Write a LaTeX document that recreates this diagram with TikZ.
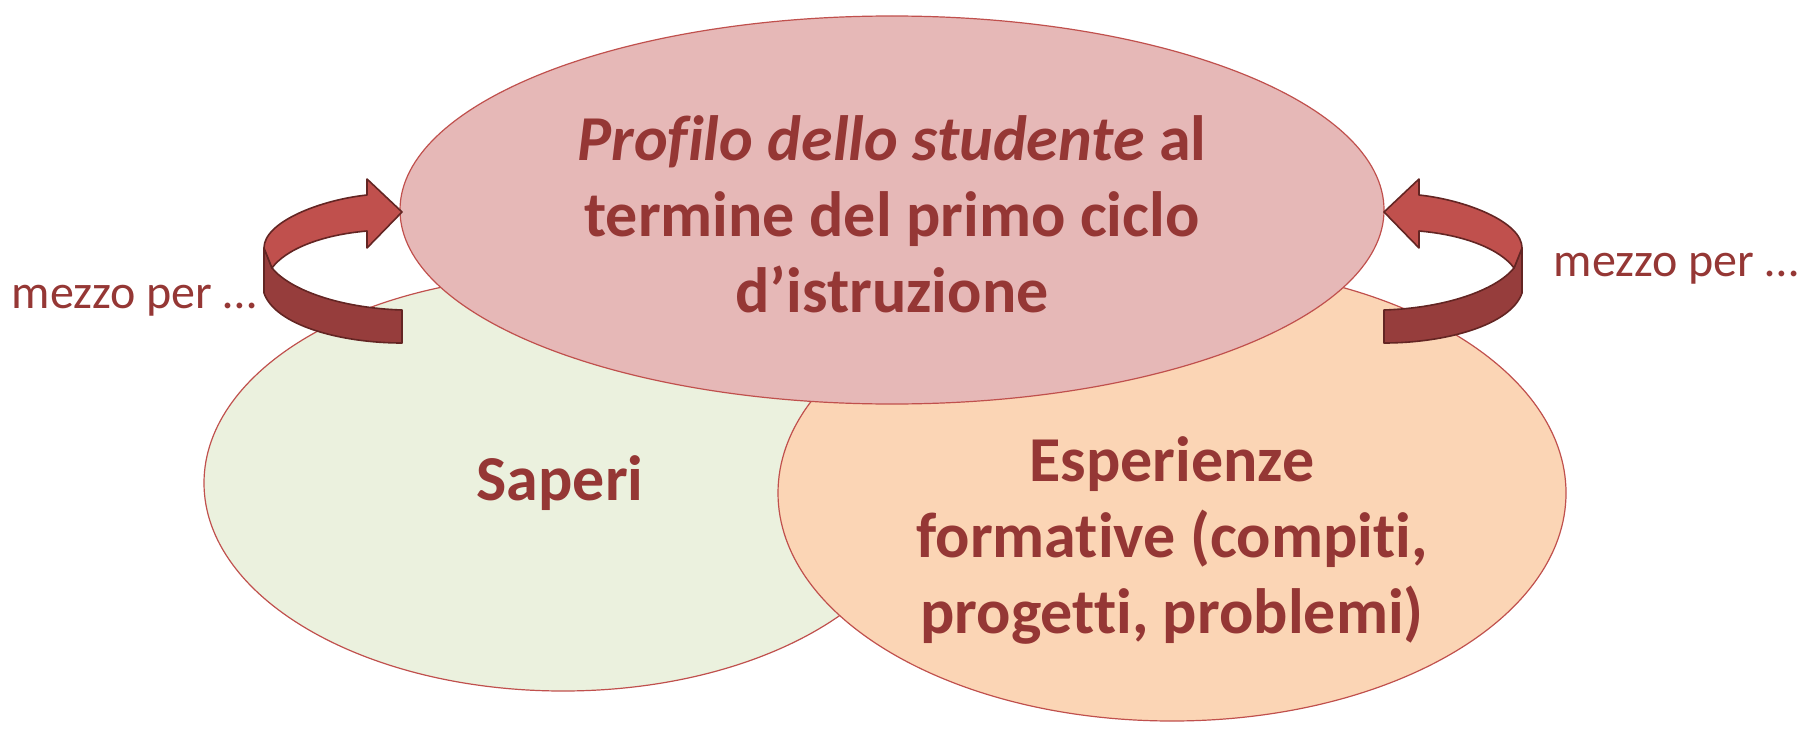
\documentclass[tikz,border=0pt]{standalone}
\usepackage{fontspec}
\setmainfont{Carlito}[Ligatures=NoCommon]
\usepackage{tikz}
\usetikzlibrary{positioning}

\definecolor{rosa}{HTML}{E6B8B7}
\definecolor{verde}{HTML}{EBF1DE}
\definecolor{pesca}{HTML}{FBD5B5}
\definecolor{bordo}{HTML}{C0504D}
\definecolor{testo}{HTML}{953735}
\definecolor{chiara}{HTML}{C0504D}
\definecolor{scura}{HTML}{963D3C}
\definecolor{contorno}{HTML}{632523}

\tikzset{
  bolla/.style={draw=bordo, line width=0.6pt},
  titolo/.style={text=testo, align=center, font=\fontsize{32}{38}\selectfont\bfseries},
  nota/.style={text=testo, font=\fontsize{24}{29}\selectfont},
  freccia/.style={draw=contorno, line width=0.8pt, line join=round}
}

\begin{document}
\begin{tikzpicture}[x=0.5pt,y=0.5pt,yscale=-1,xscale=1]
\useasboundingbox (0,0) rectangle (1802,738);

%Shape: Ellipse [Saperi]
\draw [bolla, fill=verde] (563,483) ellipse (359 and 208);

%Shape: Ellipse [Esperienze]
\draw [bolla, fill=pesca] (1172,493) ellipse (394 and 228);

%Shape: Ellipse [Profilo]
\draw [bolla, fill=rosa] (892,210) ellipse (492 and 194);

%Curved Arrow left: back side
\draw [freccia, fill=scura] (264,248) -- (264,293) .. controls (275,325) and (340,343) .. (402,343) -- (402,310) .. controls (340,308) and (290,290) .. (272,268) -- cycle ;
%Curved Arrow left: top side
\draw [freccia, fill=chiara] (264,248) .. controls (264,222) and (320,200) .. (367,195) -- (367,179) -- (402,212) -- (367,248) -- (367,231) .. controls (320,235) and (285,250) .. (272,268) -- cycle ;

%Curved Arrow right: back side
\draw [freccia, fill=scura] (1522,248) -- (1522,293) .. controls (1511,325) and (1446,343) .. (1384,343) -- (1384,310) .. controls (1446,308) and (1496,290) .. (1514,268) -- cycle ;
%Curved Arrow right: top side
\draw [freccia, fill=chiara] (1522,248) .. controls (1522,222) and (1466,200) .. (1419,195) -- (1419,179) -- (1384,212) -- (1419,248) -- (1419,231) .. controls (1466,235) and (1501,250) .. (1514,268) -- cycle ;

% Text Node
\node (profilo) [titolo] at (892,214) {\textit{Profilo dello studente} al\\termine del primo ciclo\\d’istruzione};
% Text Node
\node (saperi) [titolo] at (560,483) {Saperi};
% Text Node
\node (esperienze) [titolo] at (1172,540) {Esperienze\\formative (compiti,\\progetti, problemi)};
% Text Node
\node (mezzosx) [nota] at (134,301) {mezzo per …};
% Text Node
\node (mezzodx) [nota] at (1676,269) {mezzo per …};

\end{tikzpicture}
\end{document}
